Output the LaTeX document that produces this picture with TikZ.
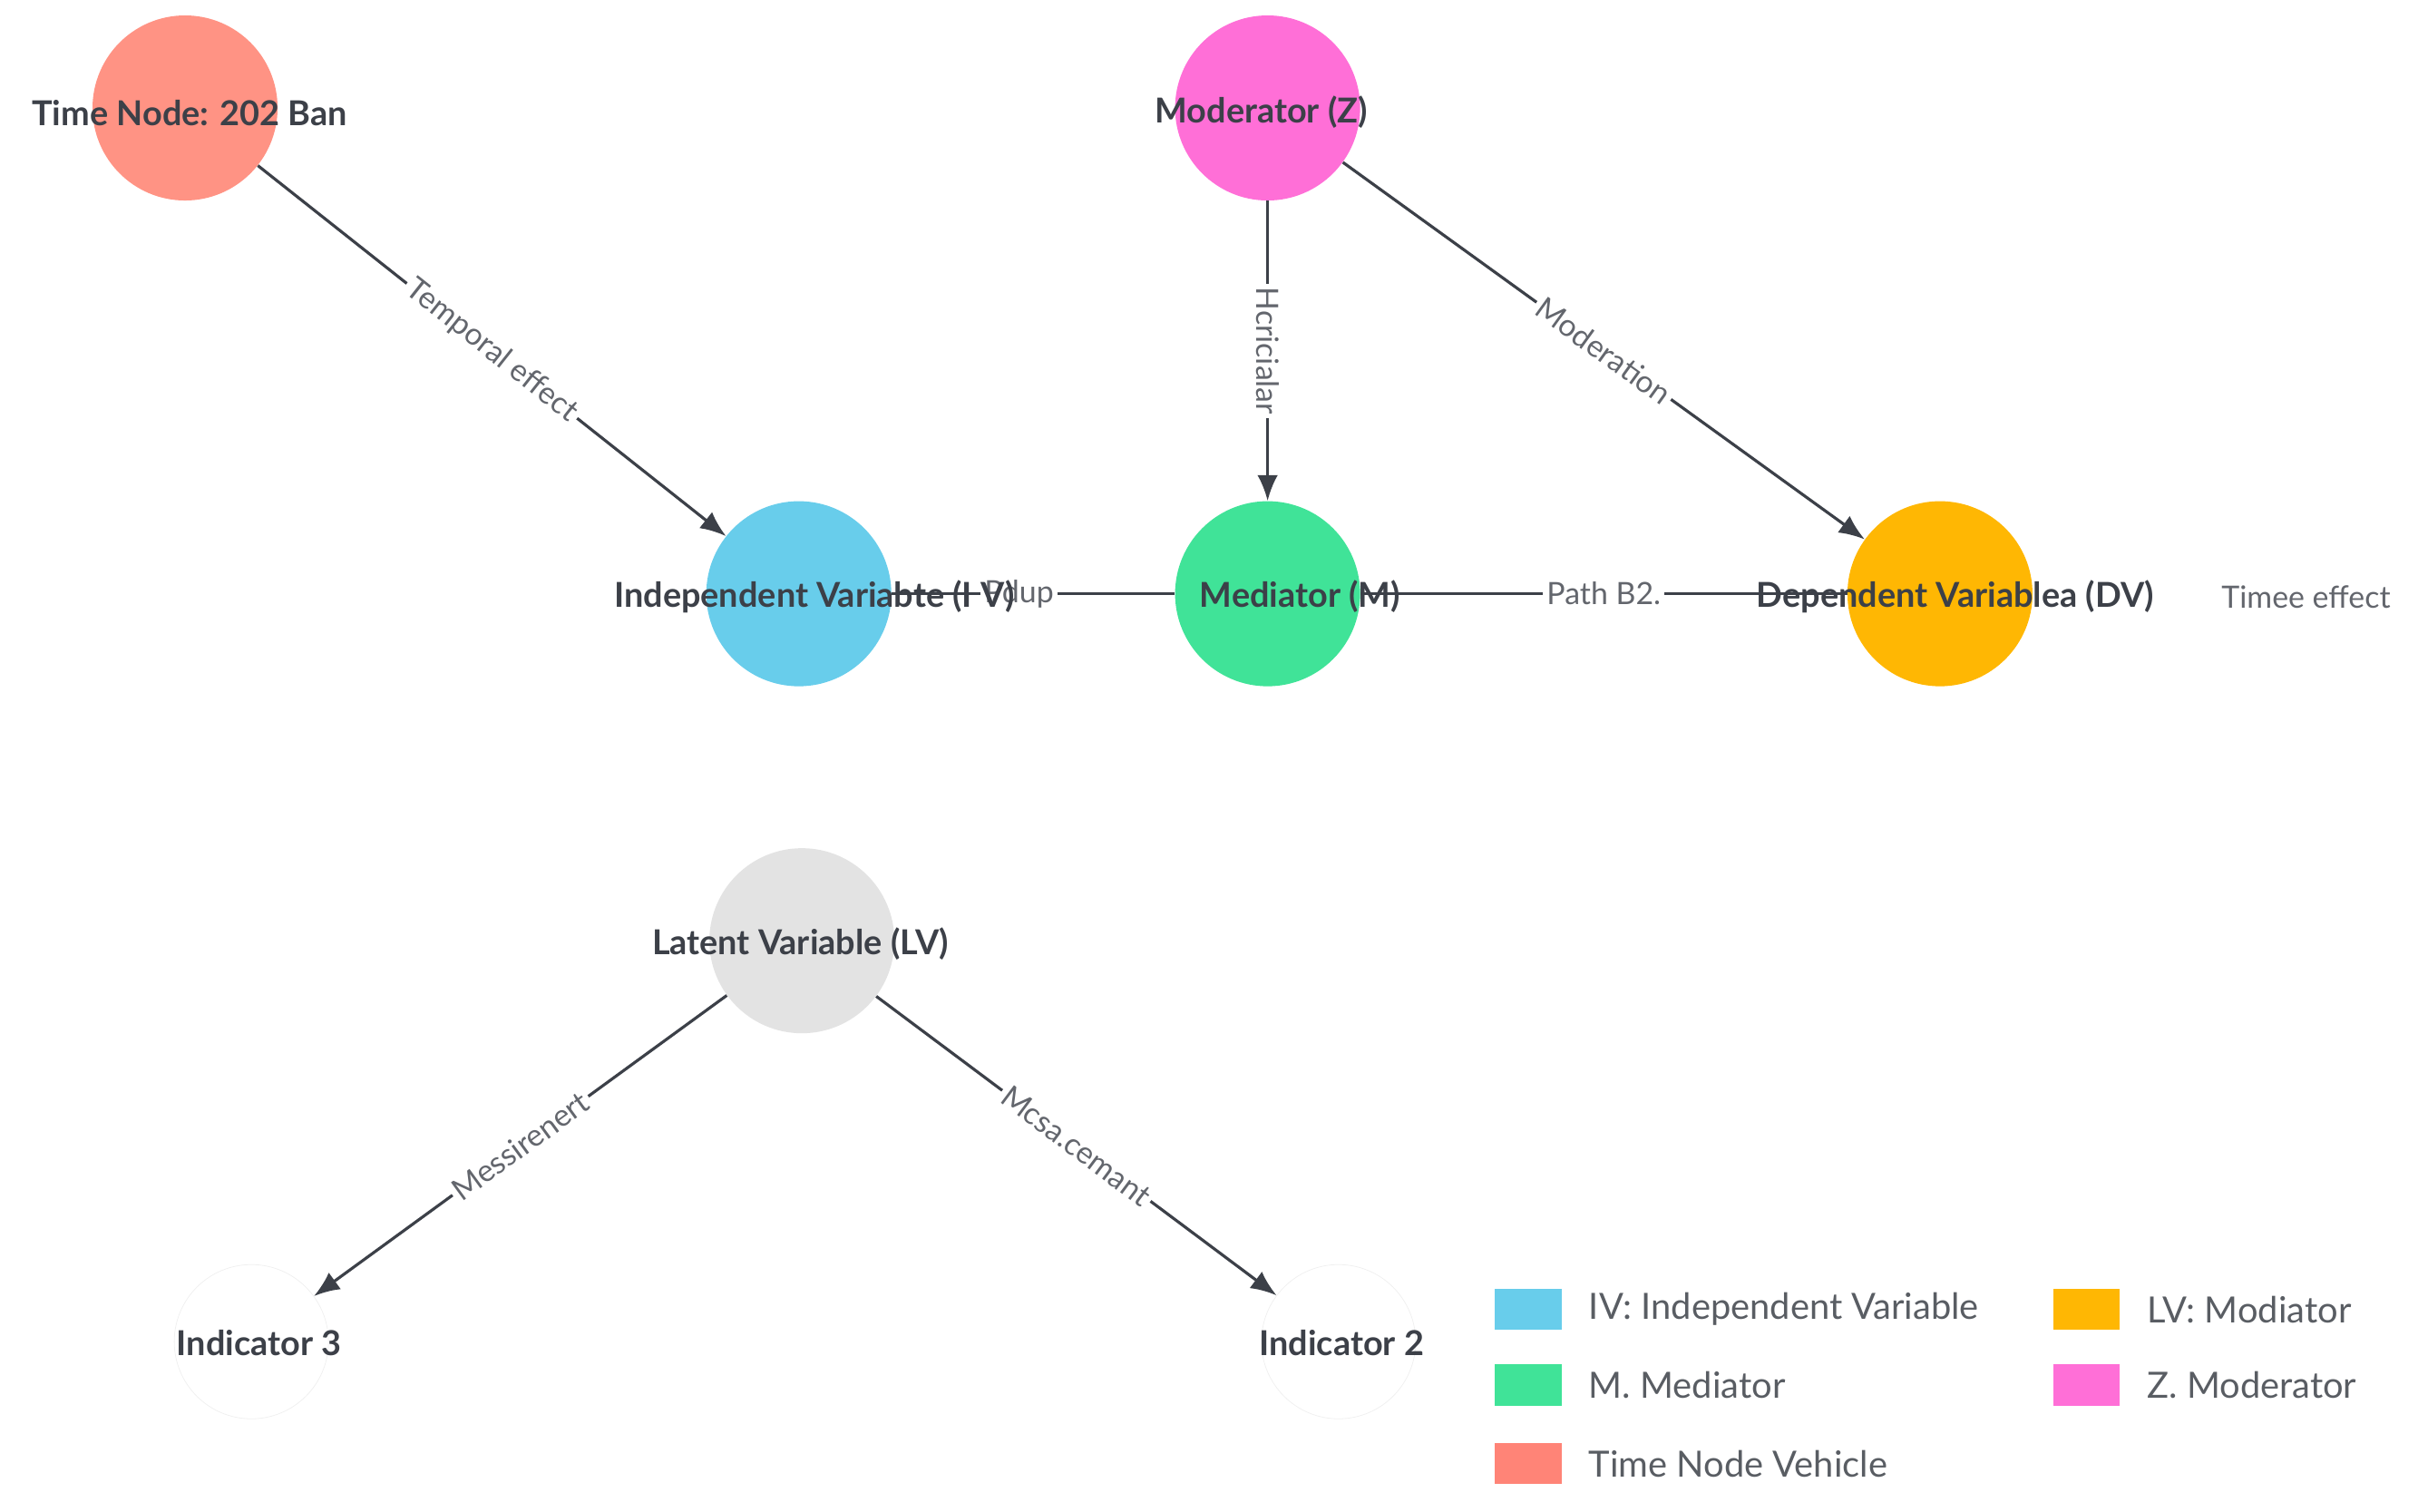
\documentclass[tikz,border=0pt]{standalone}
\usepackage{fontspec}
\setmainfont{Lato}
\usetikzlibrary{arrows.meta,positioning}
\definecolor{ivcol}{HTML}{68CDEB}
\definecolor{medcol}{HTML}{40E398}
\definecolor{dvcol}{HTML}{FFB703}
\definecolor{modcol}{HTML}{FF6FD7}
\definecolor{timecol}{HTML}{FF9384}
\definecolor{lvcol}{HTML}{E3E3E3}
\definecolor{ink}{HTML}{3C4048}
\begin{document}
\begin{tikzpicture}[
  x=0.03cm, y=-0.03cm,
  var/.style={circle, minimum size=3.6cm, inner sep=0pt},
  lbl/.style={font=\fontsize{19}{22}\selectfont\bfseries, text=ink},
  elbl/.style={font=\fontsize{17}{20}\selectfont, text=ink!80, fill=white, inner sep=2pt},
  arrow/.style={-{Latex[length=5mm,width=4mm]}, line width=1.6pt, draw=ink},
  link/.style={line width=1.6pt, draw=ink},
  key/.style={minimum width=1.3cm, minimum height=0.8cm, inner sep=0pt},
  keytxt/.style={font=\fontsize{20}{23}\selectfont, text=ink!85, anchor=west},
]
  \useasboundingbox (0,0) rectangle (1568,980);

  \node[var, fill=timecol] (time) at (120,70) {};
  \node[var, fill=modcol] (mod) at (822,70) {};
  \node[var, fill=ivcol] (iv) at (518,385) {};
  \node[var, fill=medcol] (med) at (822,385) {};
  \node[var, fill=dvcol] (dv) at (1258,385) {};
  \node[var, fill=lvcol] (lv) at (520,610) {};
  \node[var, minimum size=3cm, draw=black!6] (ind3) at (163,870) {};
  \node[var, minimum size=3cm, draw=black!6] (ind2) at (868,870) {};

  \draw[arrow] (time) -- node[elbl, sloped] {Temporal effect} (iv);
  \draw[arrow] (mod) -- node[elbl, rotate=-90] {Hcricialar} (med);
  \draw[arrow] (mod) -- node[elbl, sloped] {Moderation} (dv);
  \draw[link] (iv) -- node[elbl, pos=0.45] {Pdup} (med);
  \draw[link] (med) -- node[elbl] {Path B2.} (dv);
  \draw[arrow] (lv) -- node[elbl, sloped] {Messirenert} (ind3);
  \draw[arrow] (lv) -- node[elbl, sloped] {Mcsa.cemant} (ind2);

  \node[lbl] at (123,73) {Time Node: 202 Ban};
  \node[lbl] at (818,73) {Moderator (Z)};
  \node[lbl] at (528,387) {Independent Variabte (I V)};
  \node[lbl] at (843,387) {Mediator (M)};
  \node[lbl] at (1268,387) {Dependent Variablea (DV)};
  \node[elbl, anchor=west] at (1438,387) {Timee effect};
  \node[lbl] at (519,612) {Latent Variable (LV)};
  \node[lbl] at (168,871) {Indicator 3};
  \node[lbl] at (870,871) {Indicator 2};

  % legend
  \node[key, fill=ivcol] (kiv) at (991,849) {};
  \node[keytxt, right=0.4cm of kiv] {IV: Independent Variable};
  \node[key, fill=medcol] (kmed) at (991,898) {};
  \node[keytxt, right=0.4cm of kmed] {M. Mediator};
  \node[key, fill=timecol!90!red] (ktime) at (991,949) {};
  \node[keytxt, right=0.4cm of ktime] {Time Node Vehicle};
  \node[key, fill=dvcol] (kdv) at (1353,849) {};
  \node[keytxt, right=0.4cm of kdv] {LV: Modiator};
  \node[key, fill=modcol] (kmod) at (1353,898) {};
  \node[keytxt, right=0.4cm of kmod] {Z. Moderator};
\end{tikzpicture}
\end{document}
